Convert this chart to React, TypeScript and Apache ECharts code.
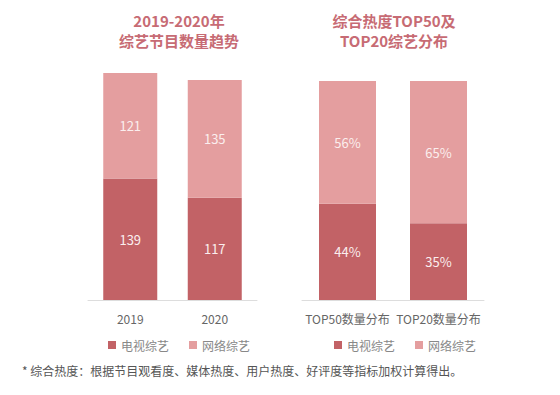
import React, { useEffect, useRef } from "react";
import * as echarts from "echarts";

const yearCategories = ["2019", "2020"];
const tvCounts = [139, 117];
const netCounts = [121, 135];

const topCategories = ["TOP50数量分布", "TOP20数量分布"];
const tvShares = [44, 35];
const netShares = [56, 65];

const seriesNames = ["电视综艺", "网络综艺"];
const titleLeft = "2019-2020年\n综艺节目数量趋势";
const titleRight = "综合热度TOP50及\nTOP20综艺分布";
const footnote = "* 综合热度：根据节目观看度、媒体热度、用户热度、好评度等指标加权计算得出。";

const DARK = "#c26266";
const LIGHT = "#e49e9f";
const FONT = "'Noto Sans CJK SC', 'Noto Sans', sans-serif";

export default function App() {
  const ref = useRef<HTMLDivElement>(null);
  useEffect(() => {
    if (!ref.current) return;
    const chart = echarts.init(ref.current, null, { renderer: "svg" });
    const labelStyle = { show: true, position: "inside", color: "#fbeeee", fontSize: 13, fontFamily: FONT };
    const titleStyle = { color: "#c76b74", fontSize: 15, fontWeight: "bold", lineHeight: 20, fontFamily: FONT };
    chart.setOption({
      animation: false,
      backgroundColor: "#ffffff",
      textStyle: { fontFamily: FONT },
      title: [
        { text: titleLeft, left: 174, top: 5, textAlign: "center", textStyle: titleStyle },
        { text: titleRight, left: 389, top: 5, textAlign: "center", textStyle: titleStyle },
        {
          text: footnote,
          left: 17,
          top: 359,
          textStyle: { color: "#555555", fontSize: 12, fontWeight: "normal", fontFamily: FONT },
        },
      ],
      legend: [
        {
          data: seriesNames,
          left: 103,
          top: 334,
          icon: "rect",
          itemWidth: 8,
          itemHeight: 8,
          itemGap: 20,
          textStyle: { color: "#888888", fontSize: 12, fontFamily: FONT },
        },
        {
          data: seriesNames,
          left: 329,
          top: 334,
          icon: "rect",
          itemWidth: 8,
          itemHeight: 8,
          itemGap: 20,
          textStyle: { color: "#888888", fontSize: 12, fontFamily: FONT },
        },
      ],
      grid: [
        { left: 88, width: 169, top: 55.5, height: 244.5 },
        { left: 302, width: 182, top: 81, height: 219 },
      ],
      xAxis: [
        {
          type: "category",
          gridIndex: 0,
          data: yearCategories,
          axisLine: { lineStyle: { color: "#dddddd" } },
          axisTick: { show: false },
          axisLabel: { color: "#666666", fontSize: 12, margin: 12 },
        },
        {
          type: "category",
          gridIndex: 1,
          data: topCategories,
          axisLine: { lineStyle: { color: "#dddddd" } },
          axisTick: { show: false },
          axisLabel: { color: "#666666", fontSize: 12, margin: 12, interval: 0 },
        },
      ],
      yAxis: [
        { type: "value", gridIndex: 0, min: 0, max: 280, show: false },
        { type: "value", gridIndex: 1, min: 0, max: 100, show: false },
      ],
      series: [
        {
          name: seriesNames[0],
          type: "bar",
          stack: "a",
          xAxisIndex: 0,
          yAxisIndex: 0,
          barWidth: 54,
          data: tvCounts,
          itemStyle: { color: DARK },
          label: labelStyle,
        },
        {
          name: seriesNames[1],
          type: "bar",
          stack: "a",
          xAxisIndex: 0,
          yAxisIndex: 0,
          barWidth: 54,
          data: netCounts,
          itemStyle: { color: LIGHT },
          label: labelStyle,
        },
        {
          name: seriesNames[0],
          type: "bar",
          stack: "b",
          xAxisIndex: 1,
          yAxisIndex: 1,
          barWidth: 57,
          data: tvShares,
          itemStyle: { color: DARK },
          label: { ...labelStyle, formatter: "{c}%" },
        },
        {
          name: seriesNames[1],
          type: "bar",
          stack: "b",
          xAxisIndex: 1,
          yAxisIndex: 1,
          barWidth: 57,
          data: netShares,
          itemStyle: { color: LIGHT },
          label: { ...labelStyle, formatter: "{c}%" },
        },
      ],
    });
    return () => chart.dispose();
  }, []);
  return (
    <div
      ref={ref}
      style={{ position: "fixed", left: 0, top: 0, width: 560, height: 395 }}
    />
  );
}
